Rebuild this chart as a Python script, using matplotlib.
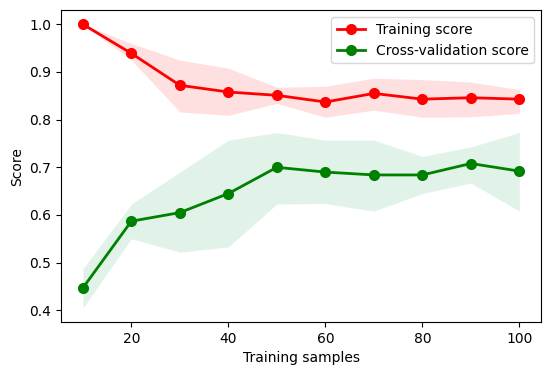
import numpy as np
import matplotlib
matplotlib.use("Agg")
import matplotlib.pyplot as plt

# learning curve data
train_sizes = [10, 20, 30, 40, 50, 60, 70, 80, 90, 100]
train_mean = [1.000, 0.939, 0.872, 0.858, 0.851, 0.837, 0.855, 0.843, 0.846, 0.843]
train_upper = [1.000, 0.960, 0.925, 0.908, 0.868, 0.870, 0.887, 0.884, 0.879, 0.863]
train_lower = [1.000, 0.925, 0.816, 0.809, 0.834, 0.805, 0.820, 0.805, 0.806, 0.813]

cv_mean = [0.447, 0.587, 0.605, 0.645, 0.700, 0.690, 0.684, 0.684, 0.708, 0.692]
cv_upper = [0.487, 0.623, 0.690, 0.757, 0.773, 0.757, 0.757, 0.723, 0.743, 0.773]
cv_lower = [0.405, 0.550, 0.522, 0.533, 0.623, 0.624, 0.608, 0.645, 0.667, 0.608]

fig = plt.figure(figsize=(5.5, 3.75), dpi=100)
ax = fig.add_axes([0.111, 0.141, 0.873, 0.832])

ax.fill_between(train_sizes, train_lower, train_upper, color="r", alpha=0.12, lw=0)
ax.fill_between(train_sizes, cv_lower, cv_upper, color="mediumseagreen", alpha=0.15, lw=0)
ax.plot(train_sizes, train_mean, "o-", color="r", lw=2, ms=7, label="Training score")
ax.plot(train_sizes, cv_mean, "o-", color="g", lw=2, ms=7, label="Cross-validation score")

ax.set_xlabel("Training samples")
ax.set_ylabel("Score")
ax.set_xticks([20, 40, 60, 80, 100])
ax.set_yticks([0.4, 0.5, 0.6, 0.7, 0.8, 0.9, 1.0])
ax.legend(loc="upper right")

fig.savefig("out.png", dpi=100)
